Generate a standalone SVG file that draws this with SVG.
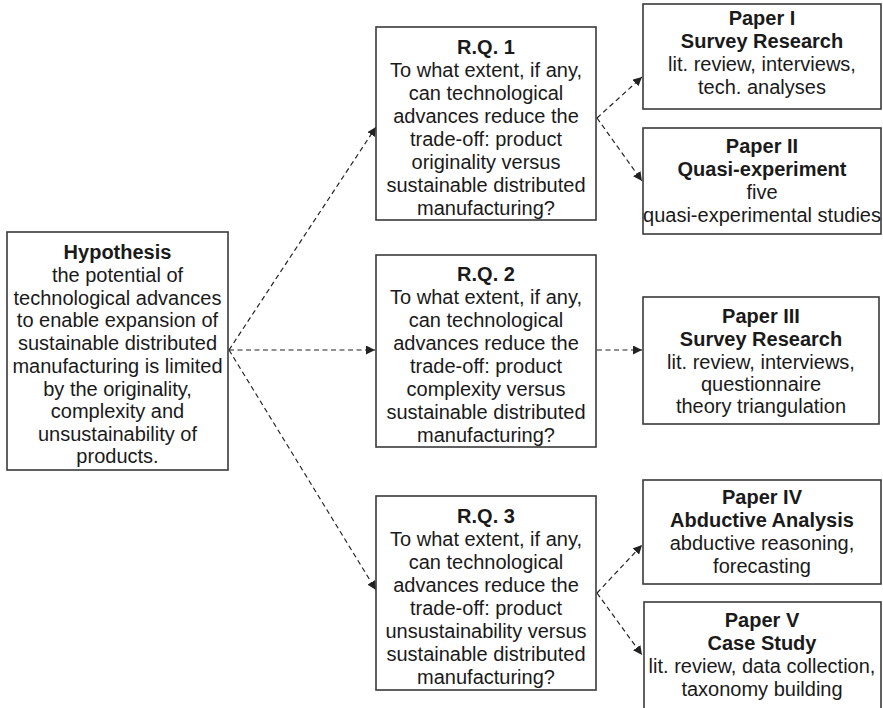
<svg xmlns="http://www.w3.org/2000/svg" width="883" height="708" viewBox="0 0 883 708">
<style>
.box{fill:#fff;stroke:#3a3a3a;stroke-width:1.6}
text{font-family:"Liberation Sans",Arial,sans-serif;font-size:20px;fill:#1a1a1a;text-anchor:middle}
.b{font-weight:bold}
.c{fill:none;stroke:#222;stroke-width:1.2;stroke-dasharray:5 3.5}
</style>
<defs>
<marker id="ah" viewBox="0 0 10 10" refX="10" refY="5" markerWidth="9" markerHeight="9" markerUnits="userSpaceOnUse" orient="auto">
<path d="M0,0 L10,5 L0,10 z" fill="#222"/>
</marker>
</defs>
<rect width="883" height="708" fill="#fff"/>
<g id="connectors">
<line class="c" x1="229" y1="350" x2="376" y2="127" marker-end="url(#ah)"/>
<line class="c" x1="229" y1="350" x2="375" y2="350" marker-end="url(#ah)"/>
<line class="c" x1="229" y1="350" x2="376" y2="590" marker-end="url(#ah)"/>
<line class="c" x1="597" y1="118" x2="642" y2="77" marker-end="url(#ah)"/>
<line class="c" x1="597" y1="118" x2="642" y2="181" marker-end="url(#ah)"/>
<line class="c" x1="597" y1="350" x2="642" y2="350" marker-end="url(#ah)"/>
<line class="c" x1="597" y1="593" x2="642" y2="545" marker-end="url(#ah)"/>
<line class="c" x1="597" y1="593" x2="642" y2="655" marker-end="url(#ah)"/>
</g>
<g id="hypothesis">
<rect class="box" x="7" y="232" width="221" height="238"/>
<text class="b" x="117.5" y="259">Hypothesis</text>
<text x="117.5" y="282">the potential of</text>
<text x="117.5" y="304.5">technological advances</text>
<text x="117.5" y="327">to enable expansion of</text>
<text x="117.5" y="350">sustainable distributed</text>
<text x="117.5" y="373">manufacturing is limited</text>
<text x="117.5" y="395.5">by the originality,</text>
<text x="117.5" y="418">complexity and</text>
<text x="117.5" y="441">unsustainability of</text>
<text x="117.5" y="463">products.</text>
</g>
<g id="rq1">
<rect class="box" x="376" y="27" width="220" height="193"/>
<text class="b" x="486" y="54">R.Q. 1</text>
<text x="486" y="77">To what extent, if any,</text>
<text x="486" y="100">can technological</text>
<text x="486" y="123">advances reduce the</text>
<text x="486" y="146">trade-off: product</text>
<text x="486" y="169">originality versus</text>
<text x="486" y="192">sustainable distributed</text>
<text x="486" y="215">manufacturing?</text>
</g>
<g id="rq2">
<rect class="box" x="376" y="255" width="220" height="192"/>
<text class="b" x="486" y="281">R.Q. 2</text>
<text x="486" y="304">To what extent, if any,</text>
<text x="486" y="327">can technological</text>
<text x="486" y="350">advances reduce the</text>
<text x="486" y="373">trade-off: product</text>
<text x="486" y="396">complexity versus</text>
<text x="486" y="419">sustainable distributed</text>
<text x="486" y="442">manufacturing?</text>
</g>
<g id="rq3">
<rect class="box" x="376" y="496" width="220" height="194"/>
<text class="b" x="486" y="523">R.Q. 3</text>
<text x="486" y="546">To what extent, if any,</text>
<text x="486" y="569">can technological</text>
<text x="486" y="592">advances reduce the</text>
<text x="486" y="615">trade-off: product</text>
<text x="486" y="638">unsustainability versus</text>
<text x="486" y="661">sustainable distributed</text>
<text x="486" y="684">manufacturing?</text>
</g>
<g id="paper1">
<rect class="box" x="643" y="4" width="238" height="105"/>
<text class="b" x="762" y="25">Paper I</text>
<text class="b" x="762" y="48">Survey Research</text>
<text x="762" y="71">lit. review, interviews,</text>
<text x="762" y="94">tech. analyses</text>
</g>
<g id="paper2">
<rect class="box" x="643" y="128" width="238" height="106"/>
<text class="b" x="762" y="153">Paper II</text>
<text class="b" x="762" y="176">Quasi-experiment</text>
<text x="762" y="199">five</text>
<text x="762" y="222">quasi-experimental studies</text>
</g>
<g id="paper3">
<rect class="box" x="643" y="297" width="236" height="127"/>
<text class="b" x="761" y="323">Paper III</text>
<text class="b" x="761" y="346">Survey Research</text>
<text x="761" y="369">lit. review, interviews,</text>
<text x="761" y="391">questionnaire</text>
<text x="761" y="413">theory triangulation</text>
</g>
<g id="paper4">
<rect class="box" x="643" y="480" width="238" height="104"/>
<text class="b" x="762" y="504">Paper IV</text>
<text class="b" x="762" y="527">Abductive Analysis</text>
<text x="762" y="550">abductive reasoning,</text>
<text x="762" y="573">forecasting</text>
</g>
<g id="paper5">
<rect class="box" x="644" y="602" width="237" height="115"/>
<text class="b" x="762" y="627">Paper V</text>
<text class="b" x="762" y="650">Case Study</text>
<text x="762" y="673">lit. review, data collection,</text>
<text x="762" y="696">taxonomy building</text>
</g>
</svg>
